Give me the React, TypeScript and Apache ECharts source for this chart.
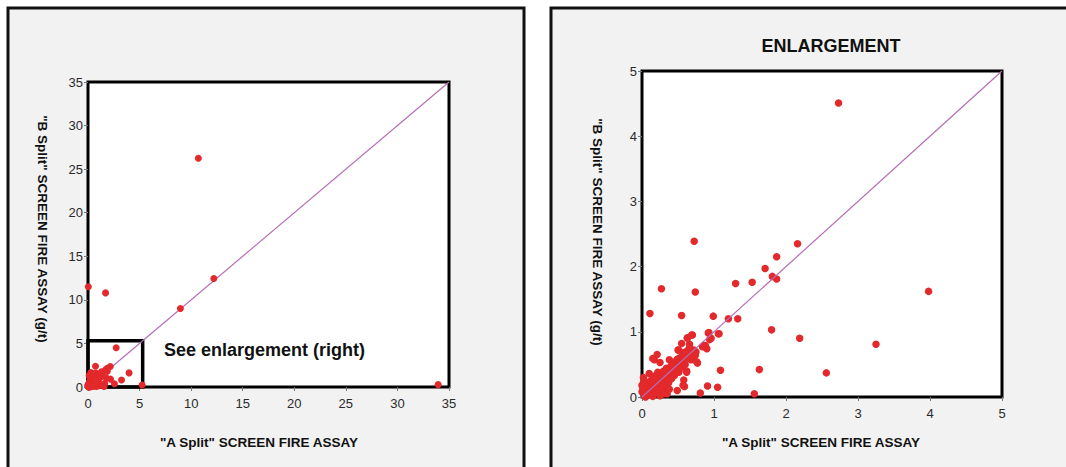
import React, { useEffect, useRef } from "react";
import * as echarts from "echarts";

// Paired assay values (g/t): "A Split" (x) and "B Split" (y)
const splitA: number[] = [
  0.03, 1.7, 10.7, 12.2, 8.96, 33.95, 5.25,
  2.73, 0.725, 2.16, 1.87, 1.71, 1.81, 1.87, 1.3, 1.53, 0.27, 0.74, 3.98,
  0.11, 0.55, 0.99, 1.2, 1.33, 1.8, 1.07, 0.92, 0.96, 2.19, 3.25,
  0.7, 0.63, 0.55, 0.66, 0.86, 0.9, 0.75, 0.51, 0.21, 0.17, 0.25, 0.77, 0.68,
  0.62, 1.09, 1.63, 2.56, 0.1, 0.49, 0.91, 1.05, 0.81, 1.56, 0.58, 0.59, 0.35,
  0.69, 0.63, 0.5, 0.15, 0.38, 0.68, 0.76, 0.57, 0.88, 0.84, 0.94, 0.93, 1.06, 0.62, 0.02,
  0.02, 0.03, 0.04, 0.05, 0.05, 0.06, 0.07, 0.08, 0.08, 0.09, 0.1, 0.1, 0.11, 0.12, 0.12,
  0.13, 0.14, 0.15, 0.15, 0.16, 0.17, 0.18, 0.18, 0.19, 0.2, 0.2, 0.21, 0.22, 0.22, 0.23,
  0.24, 0.25, 0.25, 0.26, 0.27, 0.28, 0.28, 0.29, 0.3, 0.3, 0.31, 0.32, 0.33, 0.34, 0.34,
  0.35, 0.36, 0.37, 0.38, 0.38, 0.4, 0.4, 0.41, 0.42, 0.43, 0.44, 0.45, 0.46, 0.47, 0.48,
  0.49, 0.5, 0.51, 0.52, 0.53, 0.55, 0.56, 0.57, 0.58, 0.6, 0.6, 0.62, 0.63, 0.65, 0.66,
  0.7, 0.72, 0.74, 0.05, 0.15, 0.25, 0.33, 0.38, 0.3, 0.02, 0.01, 0.03, 0.0, 0.0,
];
const splitB: number[] = [
  11.5, 10.8, 26.25, 12.46, 9.0, 0.27, 0.23,
  4.51, 2.39, 2.35, 2.15, 1.97, 1.85, 1.81, 1.74, 1.76, 1.66, 1.61, 1.62,
  1.28, 1.25, 1.24, 1.2, 1.2, 1.03, 0.97, 0.98, 0.9, 0.9, 0.81,
  0.95, 0.91, 0.82, 0.81, 0.79, 0.74, 0.69, 0.72, 0.65, 0.57, 0.53, 0.52, 0.57,
  0.4, 0.41, 0.42, 0.37, 0.36, 0.1, 0.17, 0.15, 0.06, 0.05, 0.26, 0.16, 0.05,
  0.95, 0.9, 0.72, 0.59, 0.57, 0.58, 0.54, 0.18, 0.79, 0.77, 0.88, 0.99, 0.97, 0.38, 0.21,
  0.05, 0.12, 0.02, 0.08, 0.18, 0.04, 0.1, 0.15, 0.03, 0.22, 0.07, 0.12, 0.18, 0.05, 0.25,
  0.14, 0.09, 0.2, 0.3, 0.12, 0.17, 0.06, 0.24, 0.33, 0.15, 0.21, 0.28, 0.1, 0.38, 0.2,
  0.26, 0.16, 0.31, 0.22, 0.36, 0.28, 0.12, 0.33, 0.24, 0.4, 0.3, 0.19, 0.35, 0.27, 0.44,
  0.32, 0.38, 0.22, 0.41, 0.3, 0.36, 0.47, 0.28, 0.43, 0.38, 0.5, 0.33, 0.45, 0.55, 0.42,
  0.58, 0.48, 0.38, 0.6, 0.52, 0.45, 0.62, 0.56, 0.68, 0.58, 0.5, 0.65, 0.71, 0.6, 0.76,
  0.67, 0.72, 0.64, 0.0, 0.01, 0.02, 0.08, 0.12, 0.05, 0.3, 0.15, 0.24, 0.18, 0.08,
];

const fullRange = { min: 0, max: 35, interval: 5 };
const zoomRange = { min: 0, max: 5, interval: 1 };
const diagonalFull: number[][] = [[0, 0], [35, 35]];
const diagonalZoom: number[][] = [[0, 0], [5, 5]];
const enlargeBox: number[][] = [[0, 0], [5.3, 5.3]];

const xTitle = '"A Split" SCREEN FIRE ASSAY';
const yTitle = '"B Split" SCREEN FIRE ASSAY (g/t)';
const zoomTitle = "ENLARGEMENT";
const noteText = "See enlargement (right)";

const FONT = "Liberation Sans, Arial, sans-serif";
const RED = "#e3292b";
const DIAG = "#b86cb8";

export default function App() {
  const ref = useRef<HTMLDivElement>(null);

  useEffect(() => {
    if (!ref.current) return;
    const chart = echarts.init(ref.current, undefined, { renderer: "svg" });
    const pts = splitA.map((a, i) => [a, splitB[i]]);

    const axisCommon = (r: { min: number; max: number; interval: number }, isY: boolean) => ({
      type: "value",
      min: r.min,
      max: r.max,
      interval: r.interval,
      splitLine: { show: false },
      axisLine: { show: false },
      axisTick: { show: true, length: 4, lineStyle: { color: "#777", width: 1 } },
      axisLabel: {
        color: "#2a2a2a",
        fontFamily: FONT,
        fontSize: 13,
        margin: isY ? 5 : 10,
      },
    });

    const option: any = {
      animation: false,
      backgroundColor: "#fff",
      graphic: [
        {
          type: "rect",
          z: -10,
          shape: { x: 8, y: 8, width: 516, height: 480 },
          style: { fill: "#f2f2f2", stroke: "#111", lineWidth: 3 },
        },
        {
          type: "rect",
          z: -10,
          shape: { x: 551, y: 8, width: 530, height: 480 },
          style: { fill: "#f2f2f2", stroke: "#111", lineWidth: 3 },
        },
        {
          type: "text",
          z: 10,
          x: 259,
          y: 442,
          style: { text: xTitle, font: `bold 13.5px ${FONT}`, fill: "#111", align: "center", verticalAlign: "middle" },
        },
        {
          type: "text",
          z: 10,
          x: 821,
          y: 442,
          style: { text: xTitle, font: `bold 13.5px ${FONT}`, fill: "#111", align: "center", verticalAlign: "middle" },
        },
        {
          type: "text",
          z: 10,
          x: 42,
          y: 229,
          rotation: -Math.PI / 2,
          style: { text: yTitle, font: `bold 13.5px ${FONT}`, fill: "#111", align: "center", verticalAlign: "middle" },
        },
        {
          type: "text",
          z: 10,
          x: 597,
          y: 232,
          rotation: -Math.PI / 2,
          style: { text: yTitle, font: `bold 13.5px ${FONT}`, fill: "#111", align: "center", verticalAlign: "middle" },
        },
        {
          type: "text",
          z: 10,
          x: 831,
          y: 46,
          style: { text: zoomTitle, font: `bold 18px ${FONT}`, fill: "#111", align: "center", verticalAlign: "middle" },
        },
        {
          type: "text",
          z: 10,
          x: 164,
          y: 350,
          style: { text: noteText, font: `bold 18px ${FONT}`, fill: "#111", align: "left", verticalAlign: "middle" },
        },
      ],
      grid: [
        {
          left: 88,
          top: 82,
          width: 361,
          height: 305,
          show: true,
          backgroundColor: "#fff",
          borderColor: "#000",
          borderWidth: 3,
        },
        {
          left: 642,
          top: 71,
          width: 360,
          height: 326,
          show: true,
          backgroundColor: "#fff",
          borderColor: "#000",
          borderWidth: 3,
        },
      ],
      xAxis: [
        { ...axisCommon(fullRange, false), gridIndex: 0 },
        { ...axisCommon(zoomRange, false), gridIndex: 1 },
      ],
      yAxis: [
        { ...axisCommon(fullRange, true), gridIndex: 0 },
        { ...axisCommon(zoomRange, true), gridIndex: 1 },
      ],
      series: [
        {
          type: "line",
          xAxisIndex: 0,
          yAxisIndex: 0,
          data: diagonalFull,
          symbol: "none",
          lineStyle: { color: DIAG, width: 1.2 },
          z: 3,
        },
        {
          type: "scatter",
          xAxisIndex: 0,
          yAxisIndex: 0,
          data: pts,
          symbolSize: 7,
          itemStyle: { color: RED, opacity: 1 },
          z: 4,
          markArea: {
            silent: true,
            itemStyle: { color: "rgba(0,0,0,0)", borderColor: "#000", borderWidth: 3.5 },
            data: [[{ coord: enlargeBox[0] }, { coord: enlargeBox[1] }]],
          },
        },
        {
          type: "line",
          xAxisIndex: 1,
          yAxisIndex: 1,
          data: diagonalZoom,
          symbol: "none",
          lineStyle: { color: DIAG, width: 1.2 },
          z: 5,
        },
        {
          type: "scatter",
          xAxisIndex: 1,
          yAxisIndex: 1,
          data: pts,
          symbolSize: 7.5,
          clip: true,
          itemStyle: { color: RED, opacity: 1 },
          z: 4,
        },
      ],
    };

    chart.setOption(option);
    return () => chart.dispose();
  }, []);

  return (
    <div
      ref={ref}
      style={{ position: "fixed", left: 0, top: 0, width: 1066, height: 467 }}
    />
  );
}
